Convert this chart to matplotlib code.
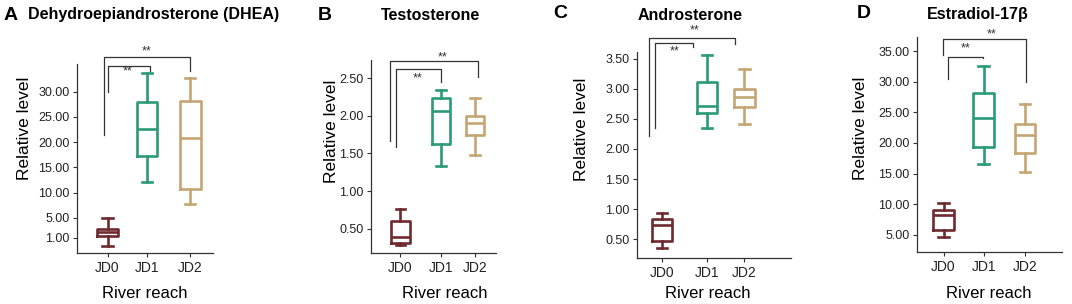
import matplotlib
matplotlib.use("Agg")
import matplotlib.pyplot as plt

plt.rcParams['font.family'] = ['Liberation Sans', 'DejaVu Sans']

# ── Data ──────────────────────────────────────────────────────────────────────
groups = ['JD0', 'JD1', 'JD2']
colors = ['#6e2a2e', '#2a9a7a', '#c4a574']

titles = ['Dehydroepiandrosterone (DHEA)', 'Testosterone', 'Androsterone', 'Estradiol-17β']
letters = ['A', 'B', 'C', 'D']

# box stats per panel: [whislo, q1, med, q3, whishi] for JD0, JD1, JD2
dhea = [[-0.6, 1.4, 2.1, 2.8, 5.0],
        [12.1, 17.3, 22.7, 27.9, 33.8],
        [7.8, 10.7, 20.9, 28.2, 32.8]]
testo = [[0.29, 0.31, 0.39, 0.60, 0.765],
         [1.34, 1.62, 2.07, 2.23, 2.34],
         [1.48, 1.74, 1.91, 2.00, 2.23]]
andro = [[0.36, 0.47, 0.73, 0.83, 0.93],
         [2.35, 2.60, 2.72, 3.11, 3.56],
         [2.42, 2.70, 2.86, 3.00, 3.33]]
estra = [[4.6, 5.8, 8.2, 9.1, 10.2],
         [16.6, 19.4, 24.15, 28.1, 32.6],
         [15.2, 18.4, 21.35, 23.1, 26.4]]
panel_data = [dhea, testo, andro, estra]

yticks_list = [[1, 5, 10, 15, 20, 25, 30],
               [0.5, 1.0, 1.5, 2.0, 2.5],
               [0.5, 1.0, 1.5, 2.0, 2.5, 3.0, 3.5],
               [5, 10, 15, 20, 25, 30, 35]]

# ── Layout (pixels in a 1072x304 canvas) ─────────────────────────────────────
W, H = 1072, 304
axes_px = [(77, 213, 64, 253), (371, 496, 60, 253), (637, 791, 52, 258), (917, 1062, 37, 252)]
xpos_list = [[0, 0.95, 2.0], [0, 1.09, 2.0], [0, 1.085, 2.0], [0, 0.98, 2.0]]
xlims = [(-0.74, 2.55), (-0.79, 2.56), (-0.61, 3.13), (-0.65, 2.90)]
ylims = [(-2.0, 35.5), (0.18, 2.74), (0.19, 3.61), (2.2, 37.3)]

# brackets: (x_left, y_left_bottom, x_right, y_right_bottom, y_top, text_x, text_y)
brackets = [
    [(-0.08, 21.5, 2.0, 34.2, 36.9, 0.95, 38.0), (0.0, 30.0, 1.02, 34.1, 35.2, 0.49, 34.0)],
    [(-0.29, 1.66, 2.08, 2.52, 2.73, 1.12, 2.77), (-0.12, 1.58, 1.09, 2.45, 2.62, 0.46, 2.49)],
    [(-0.31, 2.22, 1.77, 3.74, 3.84, 0.79, 3.97), (-0.17, 2.34, 0.76, 3.69, 3.76, 0.30, 3.62)],
    [(-0.02, 34.4, 2.02, 30.0, 36.9, 1.17, 37.7), (0.10, 30.4, 0.96, 33.9, 34.1, 0.55, 35.4)],
]

letter_px = [(4, 15), (318, 15), (553, 14), (857, 14)]
title_px = [(28, 15), (381, 15), (638, 15), (927, 15)]
ylabel_px = [(25, 128), (331, 131), (581, 129), (861, 128)]
xlabel_px = [(145, 293), (445, 293), (708, 293), (989, 293)]

fig = plt.figure(figsize=(W / 100, H / 100), dpi=100)

for i in range(4):
    l, r, t, b = axes_px[i]
    ax = fig.add_axes([l / W, 1 - b / H, (r - l) / W, (b - t) / H])
    stats = []
    for g, s in zip(groups, panel_data[i]):
        stats.append(dict(label=g, whislo=s[0], q1=s[1], med=s[2], q3=s[3], whishi=s[4], fliers=[]))
    for k in range(3):
        c = colors[k]
        ax.bxp([stats[k]], positions=[xpos_list[i][k]], widths=0.5, capwidths=0.25,
               showfliers=False,
               boxprops=dict(color=c, linewidth=1.9),
               whiskerprops=dict(color=c, linewidth=1.9),
               capprops=dict(color=c, linewidth=1.9),
               medianprops=dict(color=c, linewidth=1.9))
    ax.set_xticks(xpos_list[i])
    ax.set_xticklabels(groups, fontsize=10, color='#222222')
    ax.set_yticks(yticks_list[i])
    ax.set_yticklabels(['%.2f' % v for v in yticks_list[i]], fontsize=9, color='#222222')
    ax.set_xlim(xlims[i])
    ax.set_ylim(ylims[i])
    for side in ['top', 'right']:
        ax.spines[side].set_visible(False)
    for side in ['left', 'bottom']:
        ax.spines[side].set_color('#333333')
        ax.spines[side].set_linewidth(0.9)
    ax.tick_params(length=3, width=0.8, color='#333333', pad=2.5)

    for (xl, yl, xr, yr, yt, tx, ty) in brackets[i]:
        ax.plot([xl, xl, xr, xr], [yl, yt, yt, yr], color='#333333', linewidth=0.9,
                clip_on=False)
        ax.text(tx, ty, '**', ha='center', va='center', fontsize=9, color='#333333',
                clip_on=False)

    fig.text(ylabel_px[i][0] / W, 1 - ylabel_px[i][1] / H, 'Relative level', fontsize=12.5,
             rotation=90, ha='center', va='center')
    fig.text(xlabel_px[i][0] / W, 1 - xlabel_px[i][1] / H, 'River reach', fontsize=12,
             ha='center', va='center')
    fig.text(letter_px[i][0] / W, 1 - letter_px[i][1] / H, letters[i], fontsize=14,
             fontweight='bold', va='center', ha='left')
    fig.text(title_px[i][0] / W, 1 - title_px[i][1] / H, titles[i], fontsize=11.5,
             fontweight='bold', va='center', ha='left')

fig.savefig('out.png', dpi=100)
